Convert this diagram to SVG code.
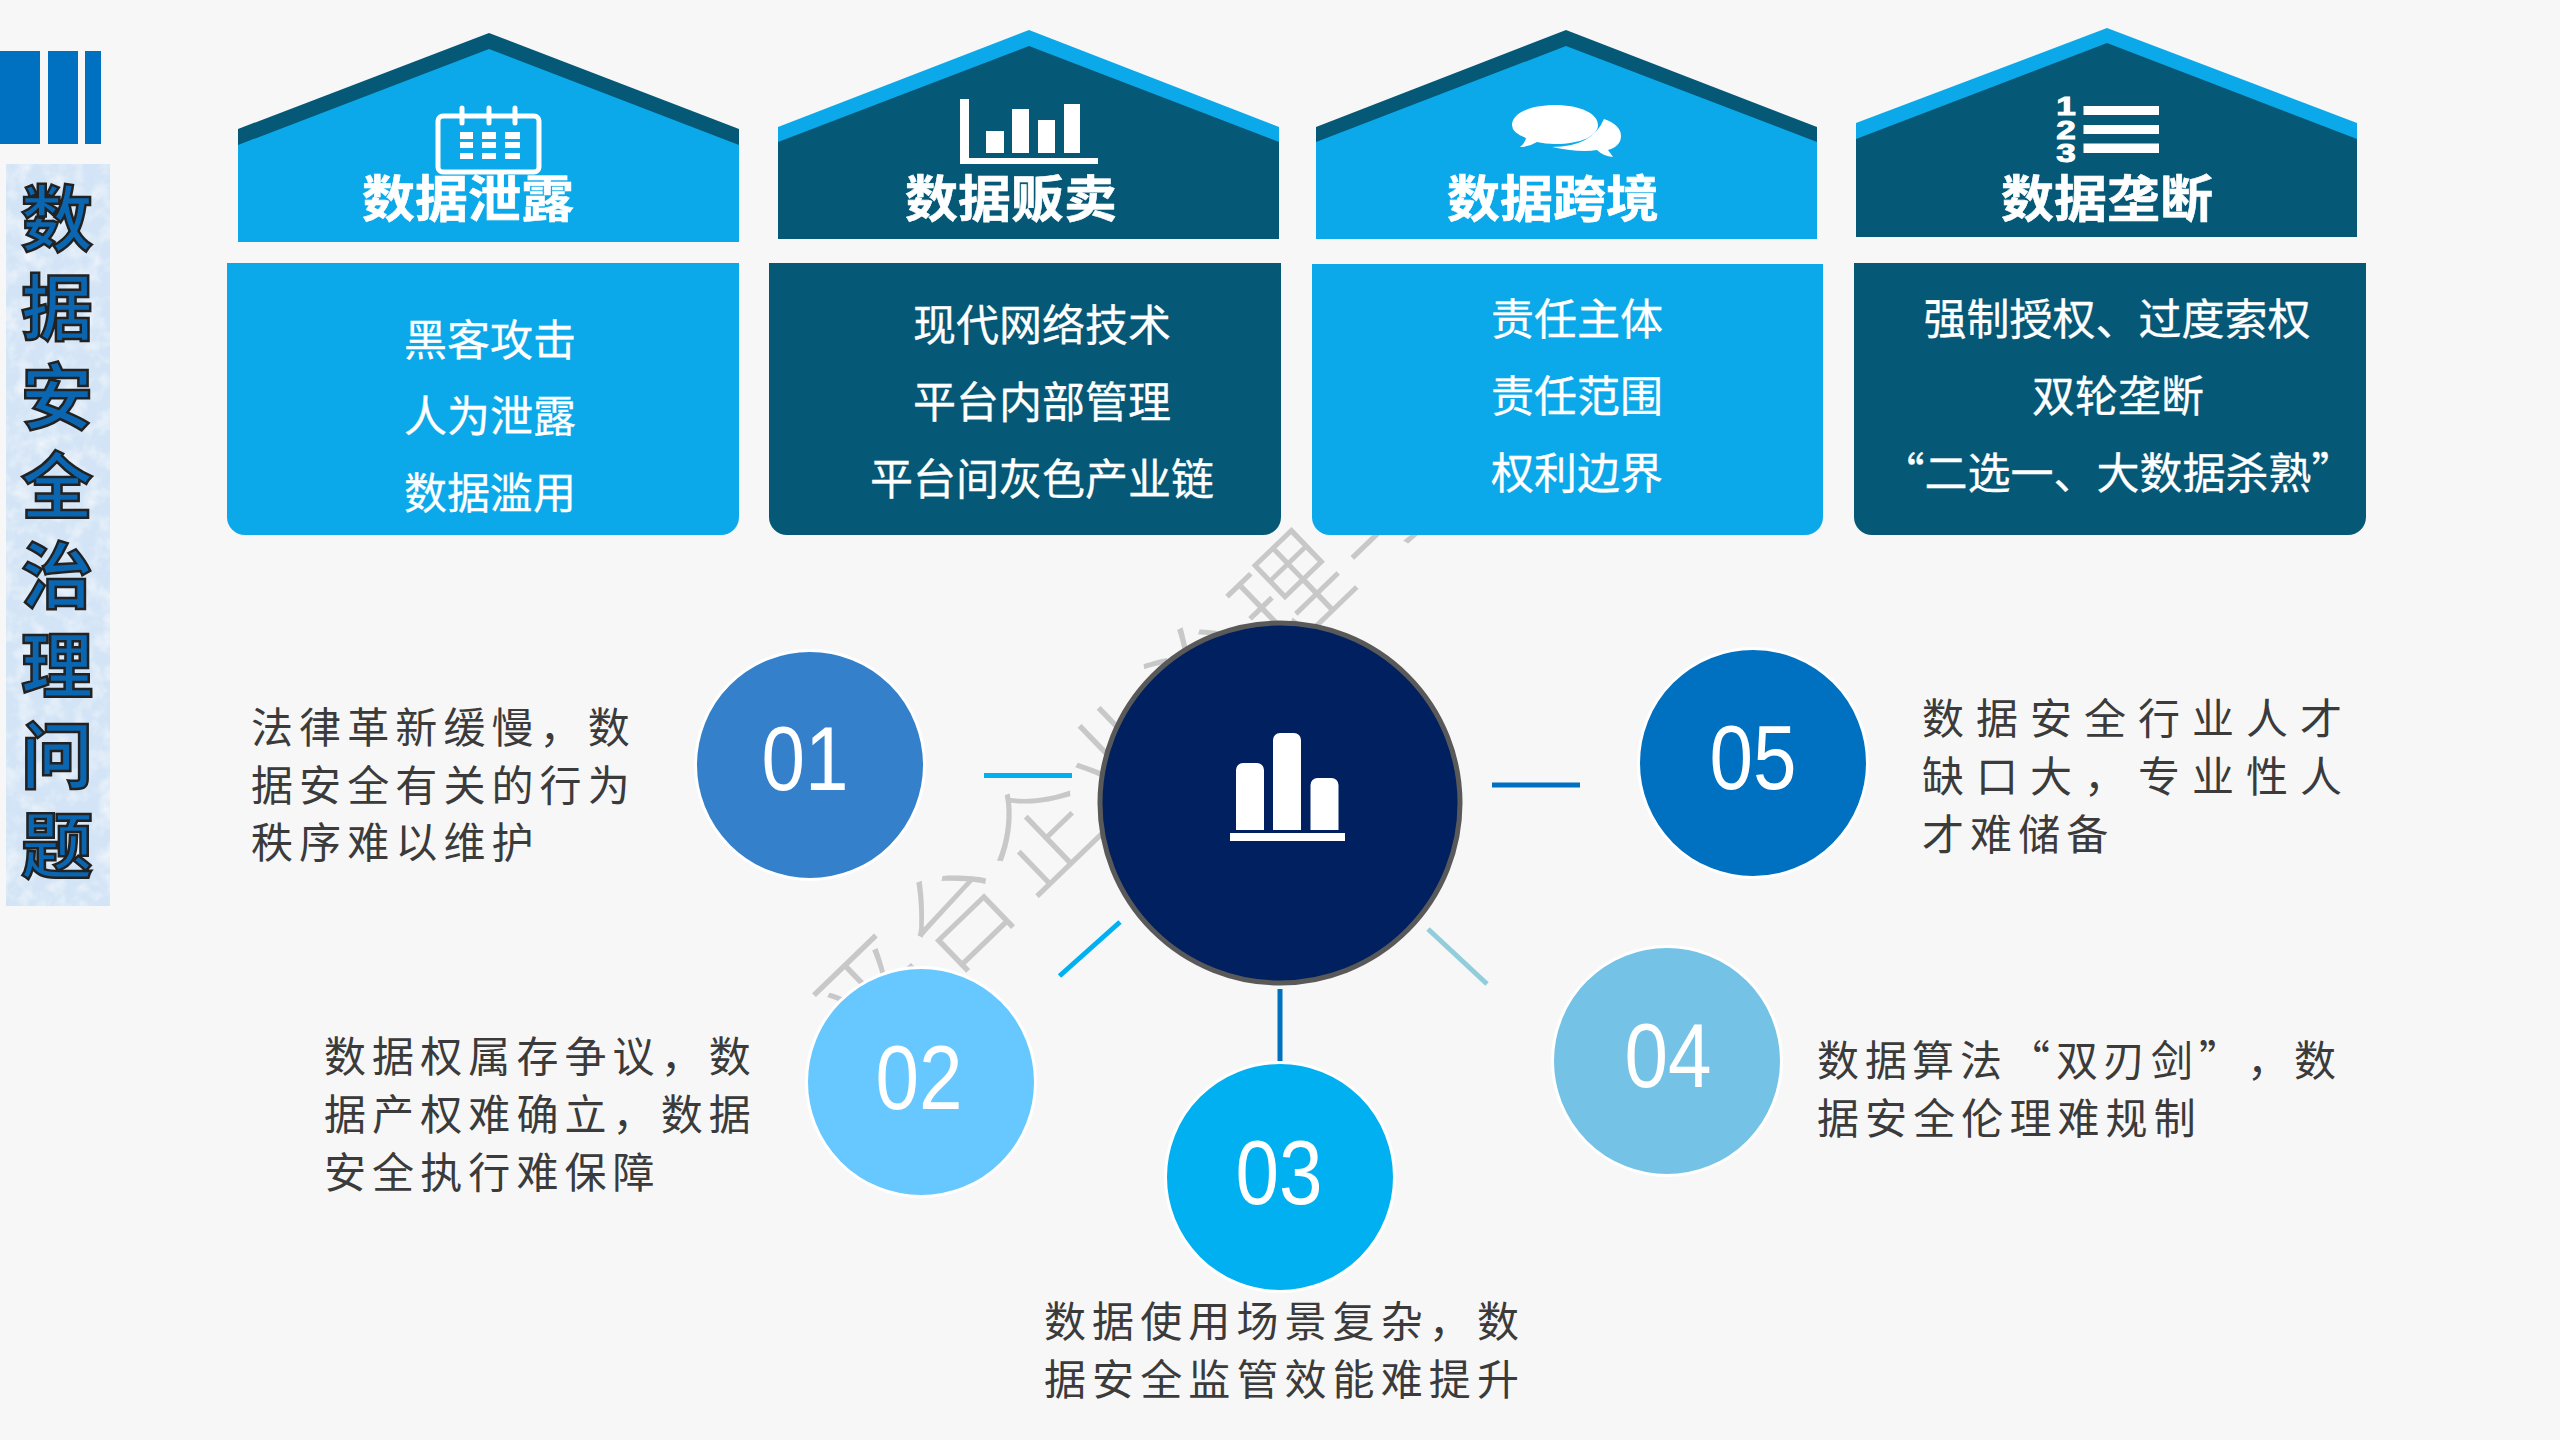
<svg xmlns="http://www.w3.org/2000/svg" width="2560" height="1440" viewBox="0 0 2560 1440">
<defs>
<filter id="tex" x="0" y="0" width="100%" height="100%">
<feTurbulence type="fractalNoise" baseFrequency="0.06" numOctaves="3" seed="4" result="n"/>
<feColorMatrix in="n" type="matrix" values="0 0 0 0 1  0 0 0 0 1  0 0 0 0 1  1.2 0 0 0 -0.5"/>
<feComposite in2="SourceGraphic" operator="in" result="m"/>
<feMerge><feMergeNode in="SourceGraphic"/><feMergeNode in="m"/></feMerge>
</filter>
</defs>
<style>
text{font-family:"Noto Sans CJK SC","Liberation Sans",sans-serif}
.lt{fill:#0BA9E9}.dk{fill:#055876}.w{fill:#fff}
.h{font-size:50px;font-weight:700;fill:#fff;stroke:#fff;stroke-width:.6;text-anchor:middle}
.b{font-size:43px;fill:#fff;stroke:#fff;stroke-width:.3;text-anchor:middle}
.d{font-size:42px;fill:#3b3b3b;letter-spacing:6.1px}
.dw{letter-spacing:12px}
.n{font-family:"Liberation Sans",Arial,sans-serif;font-size:91px;fill:#fff;text-anchor:middle}
.c{stroke:#fff;stroke-width:3}
.s{font-size:72px;font-weight:700;fill:#0B66B2;stroke:#222;stroke-width:2.5;text-anchor:middle}
.l{fill:none;stroke-width:5}
.k{font-family:"Liberation Sans",sans-serif;font-size:26px;font-weight:700;fill:#fff;stroke:#fff;stroke-width:1;text-anchor:middle}
</style>
<rect width="2560" height="1440" fill="#F7F7F7"/>
<text transform="translate(862,1062) rotate(-44)" font-size="110" font-weight="300" fill="#C8C8C8" letter-spacing="6">平台企业治理与</text>

<g id="bars" fill="#0070C0"><rect x="0" y="51" width="40" height="93"/><rect x="48" y="51" width="30" height="93"/><rect x="85" y="51" width="16" height="93"/></g>

<g id="title">
<rect x="6" y="164" width="104" height="742" fill="#D3E4F6" filter="url(#tex)"/>
<text class="s" x="57" y="245">数</text><text class="s" x="57" y="334">据</text><text class="s" x="57" y="423">安</text><text class="s" x="57" y="512">全</text><text class="s" x="57" y="602">治</text><text class="s" x="57" y="692">理</text><text class="s" x="57" y="782">问</text><text class="s" x="57" y="872">题</text>
</g>

<g id="house1">
<path class="dk" d="M238 129L489 33L739 129V160H238Z"/>
<path class="lt" d="M238 145L489 49L739 145V242H238Z"/>
<rect x="438" y="116" width="101" height="56" rx="5" fill="none" stroke="#fff" stroke-width="5"/>
<path d="M462 108V123M489 108V123M515 108V123" stroke="#fff" stroke-width="5" stroke-linecap="round"/>
<path class="w" d="M460 132h13v7h-13zM482 132h14v7h-14zM505 132h15v7h-15zM460 142h13v6h-13zM482 142h14v6h-14zM505 142h15v6h-15zM460 153h13v6h-13zM482 153h14v6h-14zM505 153h15v6h-15z"/>
<text class="h" x="468" y="217" textLength="212" lengthAdjust="spacingAndGlyphs">数据泄露</text>
</g>
<g id="card1">
<path class="lt" d="M227 263H739V517a18 18 0 0 1-18 18H245a18 18 0 0 1-18-18Z"/>
<text class="b" x="490" y="356">黑客攻击</text><text class="b" x="490" y="432">人为泄露</text><text class="b" x="490" y="509">数据滥用</text>
</g>

<g id="house2">
<path class="lt" d="M778 127L1029 30L1279 127V160H778Z"/>
<path class="dk" d="M778 142L1029 46L1279 142V239H778Z"/>
<path class="w" d="M960 99h9v59h129v6H960zM986 131h18v22h-18zM1012 109h17v44h-17zM1038 120h17v33h-17zM1064 104h16v49h-16z"/>
<text class="h" x="1011" y="217" textLength="212" lengthAdjust="spacingAndGlyphs">数据贩卖</text>
</g>
<g id="card2">
<path class="dk" d="M769 263H1281V517a18 18 0 0 1-18 18H787a18 18 0 0 1-18-18Z"/>
<text class="b" x="1042" y="341">现代网络技术</text><text class="b" x="1042" y="418">平台内部管理</text><text class="b" x="1042" y="495">平台间灰色产业链</text>
</g>

<g id="house3">
<path class="dk" d="M1316 127L1566 30L1817 127V160H1316Z"/>
<path class="lt" d="M1316 142L1566 46L1817 142V239H1316Z"/>
<path class="w" d="M1604 119Q1621 125 1621 136Q1621 146 1608 150Q1611 154 1613 157Q1603 156 1597 150Q1580 153 1552 147Q1592 147 1604 119Z"/>
<path class="w" d="M1555 105C1581 105 1598 114 1598 125C1598 136 1581 144 1555 144Q1545 144 1537 142Q1529 147 1520 147Q1525 143 1526 138Q1512 133 1512 125C1512 114 1529 105 1555 105Z"/>
<text class="h" x="1553" y="217" textLength="212" lengthAdjust="spacingAndGlyphs">数据跨境</text>
</g>
<g id="card3">
<path class="lt" d="M1312 264H1823V517a18 18 0 0 1-18 18H1330a18 18 0 0 1-18-18Z"/>
<text class="b" x="1577" y="335">责任主体</text><text class="b" x="1577" y="412">责任范围</text><text class="b" x="1577" y="489">权利边界</text>
</g>

<g id="house4">
<path class="lt" d="M1856 123L2107 28L2357 123V160H1856Z"/>
<path class="dk" d="M1856 139L2107 43L2357 139V237H1856Z"/>
<path class="w" d="M2083.500 106h75.500v9h-75.500zM2083.500 125h75.500v9h-75.500zM2083.500 143.500h75.500v9.500h-75.500z"/>
<text class="k" transform="translate(2066,115) scale(1.35,1)">1</text><text class="k" transform="translate(2066,139) scale(1.35,1)">2</text><text class="k" transform="translate(2066,162) scale(1.35,1)">3</text>
<text class="h" x="2107" y="217" textLength="212" lengthAdjust="spacingAndGlyphs">数据垄断</text>
</g>
<g id="card4">
<path class="dk" d="M1854 263H2366V517a18 18 0 0 1-18 18H1872a18 18 0 0 1-18-18Z"/>
<text class="b" x="2117" y="335">强制授权、过度索权</text><text class="b" x="2118" y="412">双轮垄断</text><text class="b" x="2118" y="489">“二选一、大数据杀熟”</text>
</g>

<g id="connectors" class="l">
<path stroke="#00B0F0" d="M984 775.500H1072M1120 922L1059.500 976"/>
<path stroke="#0070C0" d="M1492 785H1580M1280 989V1061"/>
<path stroke="#92CDDC" d="M1428 929L1487 984"/>
</g>

<g id="center">
<circle cx="1280" cy="803" r="180" fill="#002060" stroke="#595959" stroke-width="5"/>
<path class="w" d="M1236 830V770a7 7 0 0 1 7-7h14a7 7 0 0 1 7 7v60zM1273 830V740a7 7 0 0 1 7-7h14a7 7 0 0 1 7 7v90zM1310.500 830V785a7 7 0 0 1 7-7h14a7 7 0 0 1 7 7v45zM1230 833h115v8h-115z"/>
</g>

<g id="item01">
<circle class="c" cx="810" cy="765" r="114.500" fill="#3580CB"/>
<text class="n" transform="translate(805,790) scale(.86,1)">01</text>
<text class="d"><tspan x="251" y="743">法律革新缓慢，数</tspan><tspan x="251" y="801">据安全有关的行为</tspan><tspan x="251" y="858">秩序难以维护</tspan></text>
</g>
<g id="item02">
<circle class="c" cx="921" cy="1082" r="114.500" fill="#66C8FF"/>
<text class="n" transform="translate(919,1109) scale(.86,1)">02</text>
<text class="d"><tspan x="324" y="1072">数据权属存争议，数</tspan><tspan x="324" y="1130">据产权难确立，数据</tspan><tspan x="324" y="1188">安全执行难保障</tspan></text>
</g>
<g id="item03">
<circle class="c" cx="1280" cy="1177" r="114.500" fill="#00B0F0"/>
<text class="n" transform="translate(1279,1204) scale(.86,1)">03</text>
<text class="d"><tspan x="1044" y="1337">数据使用场景复杂，数</tspan><tspan x="1044" y="1395">据安全监管效能难提升</tspan></text>
</g>
<g id="item04">
<circle class="c" cx="1667" cy="1061" r="114.500" fill="#74C3E6"/>
<text class="n" transform="translate(1668,1087) scale(.86,1)">04</text>
<text class="d"><tspan x="1817 1865 1912 1960 2008 2056 2103 2151 2199 2247 2294" y="1076">数据算法“双刃剑”，数</tspan><tspan x="1817" y="1134">据安全伦理难规制</tspan></text>
</g>
<g id="item05">
<circle class="c" cx="1753" cy="763" r="114.500" fill="#0070C0"/>
<text class="n" transform="translate(1753,789) scale(.86,1)">05</text>
<text class="d dw"><tspan x="1922" y="734">数据安全行业人才</tspan><tspan x="1922" y="792">缺口大，专业性人</tspan></text>
<text class="d" x="1922" y="850">才难储备</text>
</g>
</svg>
